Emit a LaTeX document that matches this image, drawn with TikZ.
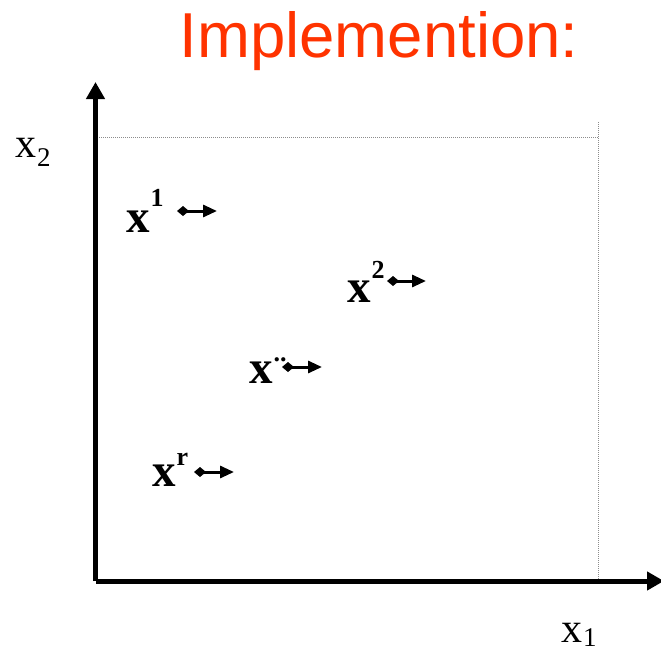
\documentclass[tikz,border=0pt]{standalone}
\usepackage{fontspec}
\setmainfont{Liberation Serif}
\newfontfamily\titlefont{Liberation Sans}
\usetikzlibrary{arrows.meta}
\definecolor{vermil}{RGB}{255,51,0}
\definecolor{guidegray}{RGB}{140,140,140}
\newcommand{\raisedlbl}[2]{\textbf{x}\hspace{1pt}\raisebox{#2pt}{\fontsize{26}{26}\selectfont\textbf{#1}}}
\newcommand{\axislbl}[2]{x\hspace{1pt}\raisebox{-#2pt}{\fontsize{27}{27}\selectfont #1}}
\tikzset{
  axis/.style={line width=5pt,line join=miter,-{Triangle[length=17pt,width=18pt]}},
  guide/.style={guidegray,line width=1pt,dash pattern=on 1pt off 1pt},
  vec/.style={line width=3pt,{Diamond[length=12pt,width=10pt]}-{Triangle[length=14pt,width=12pt]}},
  pointlbl/.style={inner sep=0pt,anchor=base west,font=\fontsize{47}{47}\selectfont},
  axlbl/.style={inner sep=0pt,anchor=base west,font=\fontsize{42}{42}\selectfont},
  title/.style={inner sep=0pt,anchor=base,text=vermil,font=\titlefont\fontsize{63.5}{63.5}\selectfont}
}
\begin{document}
\begin{tikzpicture}[x=1pt,y=-1pt]
  \useasboundingbox (0,0) rectangle (661,653);
  \node[title] (head) at (379,57) {Implemention:};
  \coordinate (orig) at (95.5,581);
  \coordinate (ytip) at (95.5,82);
  \coordinate (xtip) at (664,581);
  \coordinate (gleft) at (97,137);
  \coordinate (gright) at (598,137);
  \coordinate (gtop) at (598,122);
  \coordinate (gbot) at (598,580);
  \draw[guide] (gleft) -- (gright);
  \draw[guide] (gtop) -- (gbot);
  \draw[axis] (orig) -- (ytip);
  \draw[axis] (orig) -- (xtip);
  \node[axlbl] (lxtwo) at (15,157) {\axislbl{2}{9}};
  \node[axlbl] (lxone) at (561,642) {\axislbl{1}{4}};
  \foreach \n/\x/\y/\s/\r/\a/\b/\v in {
    one/126/232/1/26/177/217/211,
    two/347/302/2/24/387/426/281,
    dots/249/383/../22/282/322/367,
    rr/152/486/r/21/194/234/472}
  {
    \node[pointlbl] (pt\n) at (\x,\y) {\raisedlbl{\s}{\r}};
    \coordinate (vs\n) at (\a,\v);
    \coordinate (ve\n) at (\b,\v);
    \draw[vec] (vs\n) -- (ve\n);
  }
\end{tikzpicture}
\end{document}
